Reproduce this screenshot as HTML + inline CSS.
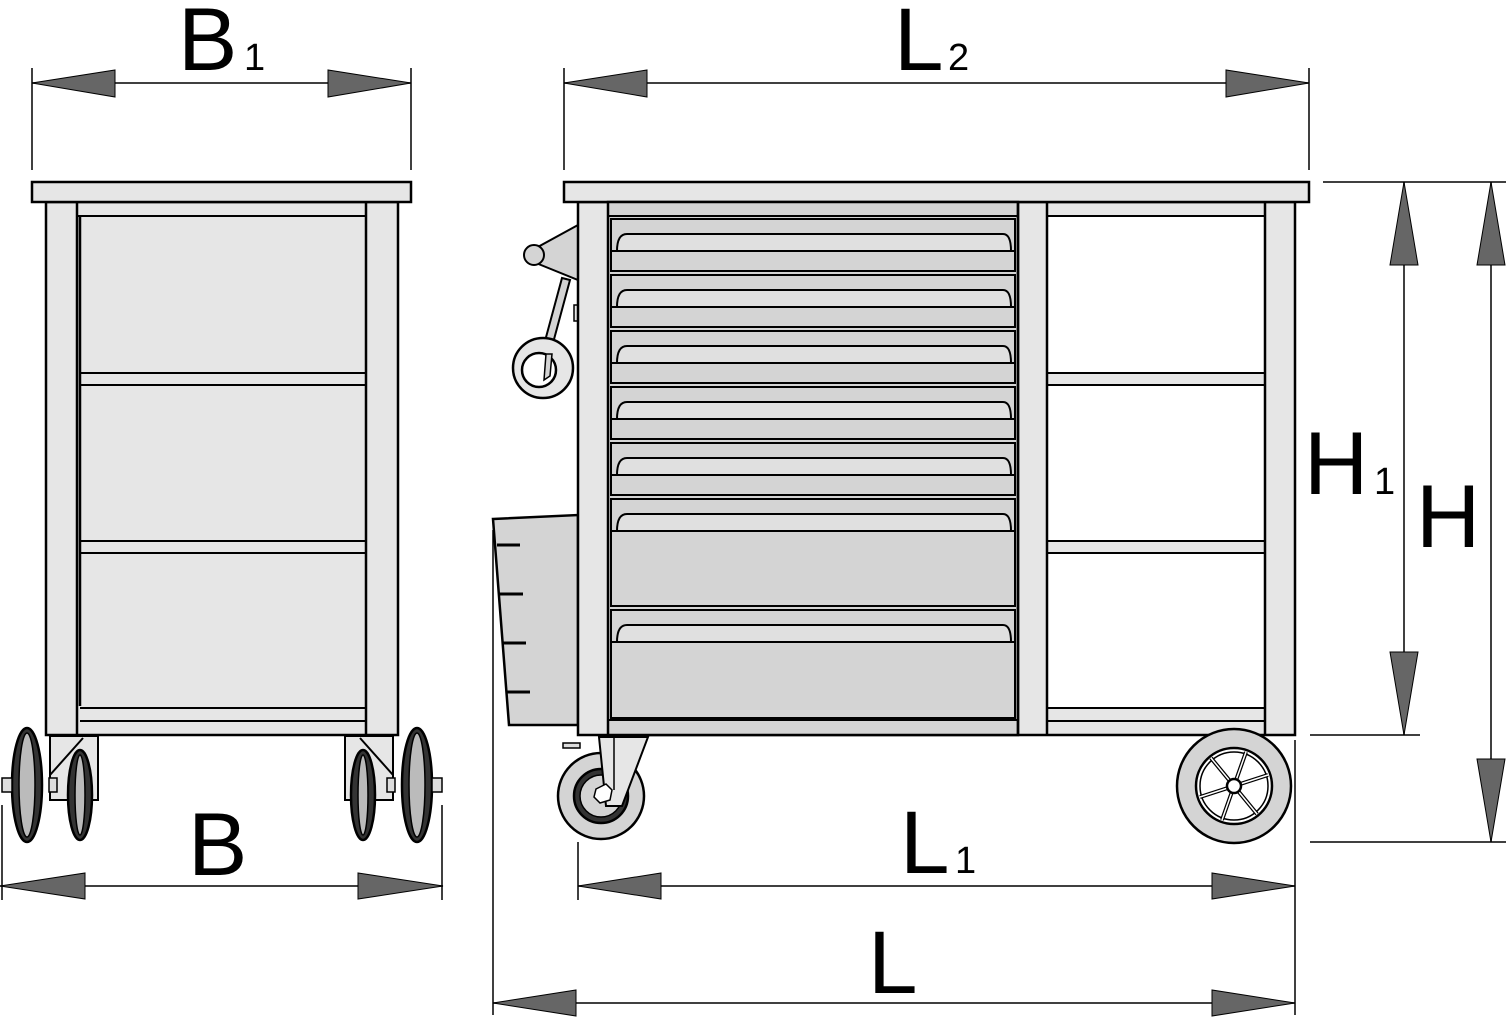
<!DOCTYPE html>
<html><head><meta charset="utf-8"><style>
html,body{margin:0;padding:0;background:#fff}
svg{display:block}
text{font-family:"Liberation Sans",Arial,sans-serif;fill:#000}
</style></head><body>
<svg width="1506" height="1022" viewBox="0 0 1506 1022" xmlns="http://www.w3.org/2000/svg">
<defs>
<g id="hnd">
<path d="M0,32 Q0,15 10,15 L386,15 Q394,15 394,32" fill="#e0e0e0" stroke="#000" stroke-width="2"/>
</g>
</defs>
<g stroke="#000" stroke-width="2.5">
<!-- LEFT VIEW -->
<rect x="46" y="202" width="352" height="533" fill="#e6e6e6"/>
<rect x="32" y="182" width="379" height="20" fill="#e6e6e6"/>
<line x1="77" y1="202" x2="77" y2="735"/>
<line x1="366" y1="202" x2="366" y2="735"/>
<line x1="77" y1="216" x2="366" y2="216" stroke-width="2"/>
<line x1="80" y1="216" x2="80" y2="706"/>
<line x1="80" y1="373" x2="366" y2="373" stroke-width="2"/>
<line x1="80" y1="385" x2="366" y2="385" stroke-width="2"/>
<line x1="80" y1="541" x2="366" y2="541" stroke-width="2"/>
<line x1="80" y1="553" x2="366" y2="553" stroke-width="2"/>
<line x1="80" y1="708" x2="366" y2="708" stroke-width="2"/>
<line x1="80" y1="721" x2="366" y2="721" stroke-width="2"/>
<!-- left casters -->
<path d="M50,736 L98,736 L98,800 L50,800 Z" fill="#e6e6e6" stroke-width="2"/>
<path d="M50,800 L50,775 L83,738" fill="none" stroke-width="2"/>
<path d="M345,736 L393,736 L393,800 L345,800 Z" fill="#e6e6e6" stroke-width="2"/>
<path d="M393,800 L393,775 L360,738" fill="none" stroke-width="2"/>
<ellipse cx="27" cy="785" rx="15" ry="57" fill="#333"/>
<ellipse cx="27" cy="785" rx="8" ry="52" fill="#bbb" stroke-width="1.5"/>
<ellipse cx="80" cy="795" rx="12" ry="45" fill="#333"/>
<ellipse cx="80" cy="795" rx="5" ry="40" fill="#bbb" stroke-width="1.5"/>
<ellipse cx="363" cy="795" rx="12" ry="45" fill="#333"/>
<ellipse cx="363" cy="795" rx="5" ry="40" fill="#bbb" stroke-width="1.5"/>
<ellipse cx="417" cy="785" rx="15" ry="57" fill="#333"/>
<ellipse cx="417" cy="785" rx="8" ry="52" fill="#bbb" stroke-width="1.5"/>
<rect x="2" y="778" width="10" height="14" fill="#ddd" stroke-width="1.5"/>
<rect x="432" y="778" width="10" height="14" fill="#ddd" stroke-width="1.5"/>
<rect x="49" y="778" width="8" height="14" fill="#ddd" stroke-width="1.5"/>
<rect x="387" y="778" width="8" height="14" fill="#ddd" stroke-width="1.5"/>

<!-- RIGHT VIEW -->
<!-- side bin -->
<polygon points="493,519 578,515 578,725 509,725" fill="#d4d4d4"/>
<g stroke-width="3"><line x1="497" y1="545" x2="520" y2="545"/><line x1="500" y1="594" x2="523" y2="594"/><line x1="503" y1="643" x2="526" y2="643"/><line x1="507" y1="692" x2="530" y2="692"/></g>
<!-- handle -->
<polygon points="578,225 536,248 536,263 578,280" fill="#d4d4d4" stroke-width="2"/>
<circle cx="534" cy="255" r="10" fill="#d4d4d4" stroke-width="2"/>
<polygon points="562,278 570,280 553,343 545,341" fill="#d4d4d4" stroke-width="2"/>
<circle cx="543" cy="368" r="30" fill="#e6e6e6"/>
<circle cx="539" cy="370" r="17" fill="#fff"/>
<path d="M546,354 L552,354 L550,376 L544,380 Z" fill="#d4d4d4" stroke-width="1.5"/>
<rect x="574" y="305" width="5" height="16" fill="#e6e6e6" stroke-width="1.5"/>
<!-- body -->
<rect x="578" y="202" width="717" height="533" fill="#e6e6e6"/>
<rect x="564" y="182" width="745" height="20" fill="#e6e6e6"/>
<rect x="608" y="202" width="410" height="533" fill="#d4d4d4"/>
<line x1="608" y1="216" x2="1018" y2="216" stroke-width="2"/>
<rect x="1047" y="216" width="218" height="157" fill="#fff" stroke-width="2"/>
<rect x="1047" y="385" width="218" height="156" fill="#fff" stroke-width="2"/>
<rect x="1047" y="553" width="218" height="155" fill="#fff" stroke-width="2"/>
<line x1="1047" y1="721" x2="1265" y2="721" stroke-width="2"/>
<line x1="1018" y1="202" x2="1018" y2="735"/>
<line x1="1047" y1="202" x2="1047" y2="735"/>
<line x1="1265" y1="202" x2="1265" y2="735"/>
<line x1="608" y1="720" x2="1018" y2="720" stroke-width="2"/>
<g fill="#d4d4d4" stroke-width="2">
<rect x="611" y="219" width="404" height="52"/>
<rect x="611" y="275" width="404" height="52"/>
<rect x="611" y="331" width="404" height="52"/>
<rect x="611" y="387" width="404" height="52"/>
<rect x="611" y="443" width="404" height="52"/>
<rect x="611" y="499" width="404" height="107"/>
<rect x="611" y="610" width="404" height="108"/>
</g>
<use href="#hnd" x="617" y="219"/>
<use href="#hnd" x="617" y="275"/>
<use href="#hnd" x="617" y="331"/>
<use href="#hnd" x="617" y="387"/>
<use href="#hnd" x="617" y="443"/>
<use href="#hnd" x="617" y="499"/>
<use href="#hnd" x="617" y="610"/>
<g stroke-width="2"><line x1="611" y1="251" x2="1015" y2="251"/><line x1="611" y1="307" x2="1015" y2="307"/><line x1="611" y1="363" x2="1015" y2="363"/><line x1="611" y1="419" x2="1015" y2="419"/><line x1="611" y1="475" x2="1015" y2="475"/><line x1="611" y1="531" x2="1015" y2="531"/><line x1="611" y1="642" x2="1015" y2="642"/></g>
<!-- front caster -->
<path d="M563,743 L580,743 L580,748 L563,748 Z" fill="#ddd" stroke-width="1.5"/>
<circle cx="601" cy="796" r="43" fill="#d4d4d4"/>
<circle cx="601" cy="796" r="27" fill="#333"/>
<circle cx="601" cy="796" r="21" fill="#d4d4d4" stroke-width="1.5"/>
<polygon points="599,737 648,737 622,806 606,806" fill="#e6e6e6" stroke-width="2"/>
<line x1="614" y1="737" x2="614" y2="790" stroke-width="1.5"/>
<polygon points="596,789 606,784 612,790 610,800 600,803 594,797" fill="#fff" stroke-width="1.5"/>
<!-- rear wheel -->
<circle cx="1234" cy="786" r="57" fill="#d4d4d4"/>
<circle cx="1234" cy="786" r="38" fill="#fff"/>
<circle cx="1234" cy="786" r="34" fill="#fff" stroke-width="1.5"/>
<g stroke-width="4"><line x1="1211" y1="758" x2="1257" y2="814"/><line x1="1200" y1="797" x2="1268" y2="775"/><line x1="1246" y1="752" x2="1222" y2="820"/></g>
<g stroke="#fff" stroke-width="1.5"><line x1="1211" y1="758" x2="1257" y2="814"/><line x1="1200" y1="797" x2="1268" y2="775"/><line x1="1246" y1="752" x2="1222" y2="820"/></g>
<circle cx="1234" cy="786" r="7" fill="#fff"/>
</g>

<!-- DIMENSIONS -->
<g stroke="#000" stroke-width="1.5">
<line x1="32" y1="68" x2="32" y2="170"/><line x1="411" y1="68" x2="411" y2="170"/><line x1="32" y1="83" x2="411" y2="83"/>
<line x1="2" y1="805" x2="2" y2="900"/><line x1="442" y1="805" x2="442" y2="900"/><line x1="0" y1="886" x2="443" y2="886"/>
<line x1="564" y1="68" x2="564" y2="170"/><line x1="1309" y1="68" x2="1309" y2="170"/><line x1="564" y1="83" x2="1309" y2="83"/>
<line x1="1323" y1="182" x2="1506" y2="182"/><line x1="1310" y1="735" x2="1420" y2="735"/><line x1="1310" y1="842" x2="1506" y2="842"/>
<line x1="1404" y1="182" x2="1404" y2="735"/><line x1="1491" y1="182" x2="1491" y2="842"/>
<line x1="578" y1="842" x2="578" y2="900"/><line x1="1295" y1="740" x2="1295" y2="1015"/><line x1="578" y1="886" x2="1295" y2="886"/>
<line x1="493" y1="530" x2="493" y2="1015"/><line x1="493" y1="1003" x2="1295" y2="1003"/>
</g>
<g fill="#666" stroke="#000" stroke-width="1">
<polygon points="32,83 115,70 115,97"/><polygon points="411,83 328,70 328,97"/>
<polygon points="0,886 85,873 85,899"/><polygon points="443,886 358,873 358,899"/>
<polygon points="564,83 647,70 647,97"/><polygon points="1309,83 1226,70 1226,97"/>
<polygon points="578,886 661,873 661,899"/><polygon points="1295,886 1212,873 1212,899"/>
<polygon points="493,1003 576,990 576,1016"/><polygon points="1295,1003 1212,990 1212,1016"/>
<polygon points="1404,182 1390,265 1418,265"/><polygon points="1404,735 1390,652 1418,652"/>
<polygon points="1491,182 1477,265 1505,265"/><polygon points="1491,842 1477,759 1505,759"/>
</g>
<text x="178" y="70" font-size="89">B</text><text x="244" y="70" font-size="38">1</text>
<text x="188" y="875" font-size="89">B</text>
<text x="894" y="70" font-size="89">L</text><text x="948" y="70" font-size="38">2</text>
<text x="900" y="873" font-size="89">L</text><text x="955" y="873" font-size="38">1</text>
<text x="868" y="993" font-size="89">L</text>
<text x="1304" y="494" font-size="89">H</text><text x="1374" y="494" font-size="38">1</text>
<text x="1416" y="547" font-size="89">H</text>
</svg>
</body></html>
